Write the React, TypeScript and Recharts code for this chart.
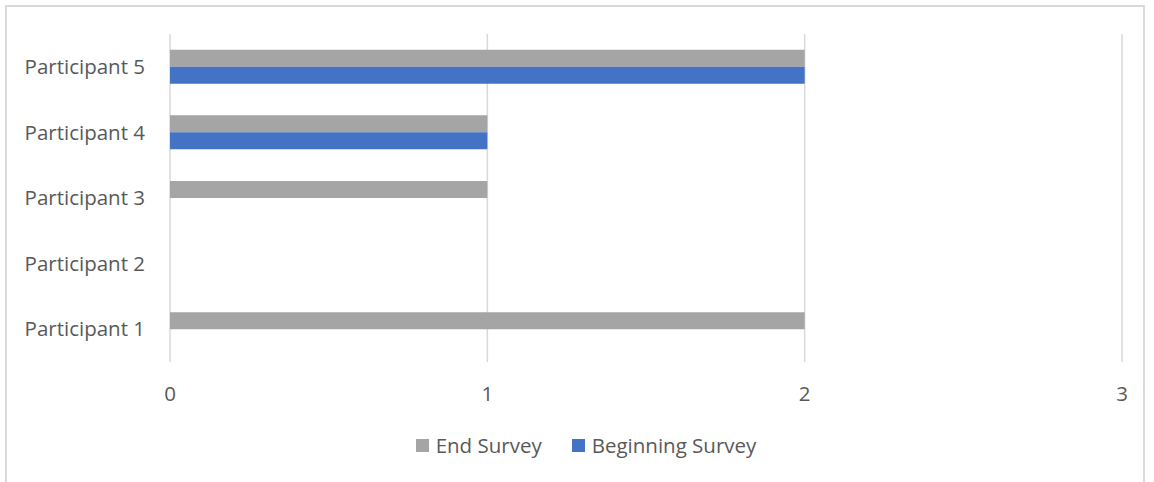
import React from 'react';
import {
  BarChart,
  Bar,
  XAxis,
  YAxis,
  CartesianGrid,
  Legend,
} from 'recharts';

const participants = ['Participant 1', 'Participant 2', 'Participant 3', 'Participant 4', 'Participant 5'];
const endSurvey = [2, 0, 1, 1, 2];
const beginningSurvey = [0, 0, 0, 1, 2];
const xTicks = [0, 1, 2, 3];
const seriesOrder = ['End Survey', 'Beginning Survey'];

const FONT = '"Open Sans", sans-serif';
const FONT_SIZE = 20.5;
const TEXT = '#595959';
const GRID = '#d9d9d9';

// Participant 5 sits at the top, so the rows go in reverse order
const chartData = participants
  .map((name, i) => ({
    name,
    'End Survey': endSurvey[i],
    'Beginning Survey': beginningSurvey[i],
  }))
  .reverse();

function SurveyLegend({ payload }: { payload?: any[] }) {
  // vertical layout flips the legend order, so put it back
  const items = [...(payload || [])].sort(
    (a, b) => seriesOrder.indexOf(a.value) - seriesOrder.indexOf(b.value)
  );
  return (
    <div
      style={{
        display: 'flex',
        justifyContent: 'center',
        gap: 30,
        fontFamily: FONT,
        fontSize: FONT_SIZE,
        color: TEXT,
      }}
    >
      {items.map((item) => (
        <div key={item.value} style={{ display: 'flex', alignItems: 'center' }}>
          <span
            style={{
              width: 13,
              height: 13,
              background: item.color,
              marginRight: 7,
              display: 'inline-block',
            }}
          />
          <span>{item.value}</span>
        </div>
      ))}
    </div>
  );
}

export default function App() {
  return (
    <div style={{ position: 'absolute', left: 0, top: 0, width: 1154, height: 482, background: '#fff' }}>
      <div
        style={{
          position: 'absolute',
          left: 5,
          top: 5,
          width: 1140,
          height: 490,
          border: `2px solid ${GRID}`,
          boxSizing: 'border-box',
        }}
      />
      <BarChart
        width={1154}
        height={482}
        data={chartData}
        layout="vertical"
        margin={{ top: 34, right: 32, left: 0, bottom: 0 }}
        barCategoryGap="24%"
        barGap={0}
        style={{ position: 'absolute', left: 0, top: 0 }}
      >
        <CartesianGrid horizontal={false} stroke={GRID} strokeWidth={1.5} />
        <XAxis
          type="number"
          domain={[0, 3]}
          ticks={xTicks}
          axisLine={false}
          tickLine={false}
          tickSize={0}
          tickMargin={24}
          height={120}
          tick={{ fill: TEXT, fontSize: FONT_SIZE, fontFamily: FONT }}
        />
        <YAxis
          type="category"
          dataKey="name"
          width={170}
          axisLine={false}
          tickLine={false}
          tickSize={0}
          tickMargin={25}
          tick={{ fill: TEXT, fontSize: FONT_SIZE, fontFamily: FONT }}
        />
        <Legend
          layout="horizontal"
          verticalAlign="middle"
          align="center"
          wrapperStyle={{ top: 431, left: 9, width: 1154 }}
          content={<SurveyLegend />}
        />
        <Bar dataKey="End Survey" fill="#a5a5a5" isAnimationActive={false} />
        <Bar dataKey="Beginning Survey" fill="#4472c4" isAnimationActive={false} />
      </BarChart>
    </div>
  );
}
